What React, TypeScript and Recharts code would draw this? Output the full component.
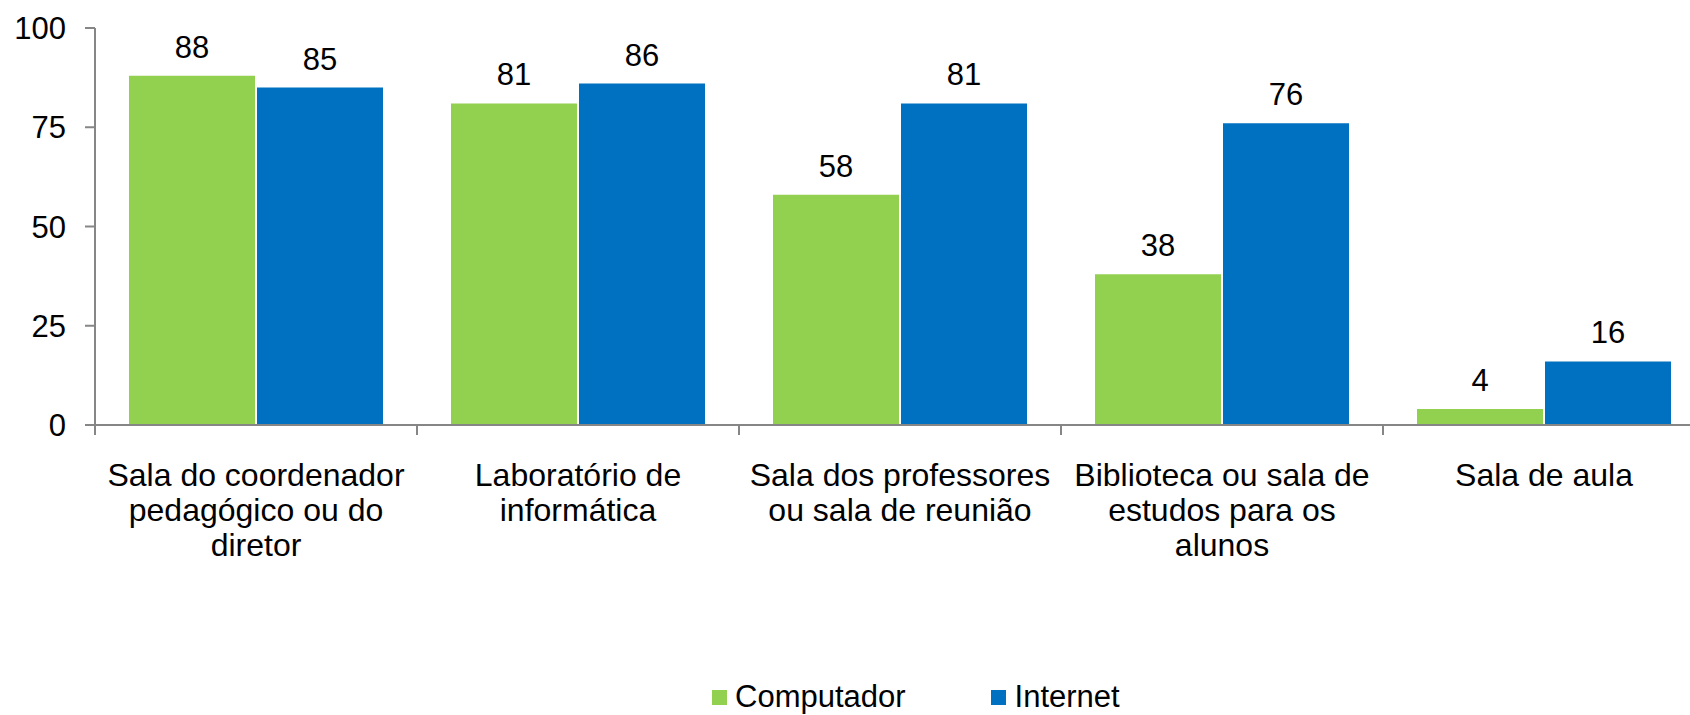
import React from 'react';
import { BarChart, Bar, XAxis, YAxis, Legend, LabelList } from 'recharts';

const categories = [
  'Sala do coordenador pedagógico ou do diretor',
  'Laboratório de informática',
  'Sala dos professores ou sala de reunião',
  'Biblioteca ou sala de estudos para os alunos',
  'Sala de aula',
];
const computador = [88, 81, 58, 38, 4];
const internet = [85, 86, 81, 76, 16];
const yTicks = [0, 25, 50, 75, 100];

const GREEN = '#92D050';
const BLUE = '#0070C0';
const AXIS = '#868686';
const FONT = 31;

const data = categories.map((name, i) => ({
  name,
  computador: computador[i],
  internet: internet[i],
}));

// simple word wrap, roughly what the original chart did
const wrap = (s: string, max = 21) => {
  const lines: string[] = [];
  let cur = '';
  s.split(' ').forEach((w) => {
    const next = cur ? cur + ' ' + w : w;
    if (next.length > max && cur) {
      lines.push(cur);
      cur = w;
    } else {
      cur = next;
    }
  });
  if (cur) lines.push(cur);
  return lines;
};

// label + tick marks on the category boundaries (not at the centres)
const CategoryTick = (props: any) => {
  const { x, y, payload, index, visibleTicksCount, width } = props;
  const lines = wrap(String(payload.value));
  const half = payload.offset || (width ? width / categories.length / 2 : 0);
  const isLast = index === (visibleTicksCount ?? categories.length) - 1;
  return (
    <g>
      <line x1={x - half} y1={y} x2={x - half} y2={y + 10} stroke={AXIS} strokeWidth={2} />
      {isLast && <line x1={x + half} y1={y} x2={x + half} y2={y + 10} stroke={AXIS} strokeWidth={2} />}
      <text x={x} y={y} textAnchor="middle" fill="#000" fontSize={32}>
        {lines.map((l, i) => (
          <tspan key={i} x={x} dy={i === 0 ? 61 : 35}>
            {l}
          </tspan>
        ))}
      </text>
    </g>
  );
};

const LegendContent = () => (
  <div style={{ display: 'flex', alignItems: 'center', marginTop: 24, height: 36, fontSize: FONT, color: '#000' }}>
    <span style={{ width: 15, height: 15, background: GREEN, display: 'inline-block', marginRight: 8 }} />
    <span>Computador</span>
    <span style={{ width: 15, height: 15, background: BLUE, display: 'inline-block', marginLeft: 85, marginRight: 9 }} />
    <span>Internet</span>
  </div>
);

export default function App() {
  return (
    <div
      style={{
        position: 'absolute',
        left: 0,
        top: 0,
        width: 1690,
        height: 715,
        overflow: 'hidden',
        background: '#fff',
        fontFamily: '"Liberation Sans", Arial, sans-serif',
      }}
    >
      <BarChart
        width={1710}
        height={715}
        data={data}
        margin={{ top: 28, right: 5, left: 0, bottom: 0 }}
        barCategoryGap={34}
        barGap={2}
      >
        <XAxis
          dataKey="name"
          type="category"
          interval={0}
          height={230}
          tickSize={0}
          tickMargin={0}
          tickLine={false}
          axisLine={{ stroke: AXIS, strokeWidth: 2 }}
          tick={<CategoryTick />}
        />
        <YAxis
          domain={[0, 100]}
          ticks={yTicks}
          width={95}
          tickSize={10}
          tickMargin={19}
          axisLine={{ stroke: AXIS, strokeWidth: 2 }}
          tickLine={{ stroke: AXIS, strokeWidth: 2 }}
          tick={{ fill: '#000', fontSize: FONT }}
        />
        <Legend
          verticalAlign="bottom"
          height={60}
          wrapperStyle={{ left: 712 }}
          content={<LegendContent />}
        />
        <Bar dataKey="computador" name="Computador" fill={GREEN} isAnimationActive={false}>
          <LabelList dataKey="computador" position="top" offset={18} style={{ fill: '#000', fontSize: FONT }} />
        </Bar>
        <Bar dataKey="internet" name="Internet" fill={BLUE} isAnimationActive={false}>
          <LabelList dataKey="internet" position="top" offset={18} style={{ fill: '#000', fontSize: FONT }} />
        </Bar>
      </BarChart>
    </div>
  );
}
